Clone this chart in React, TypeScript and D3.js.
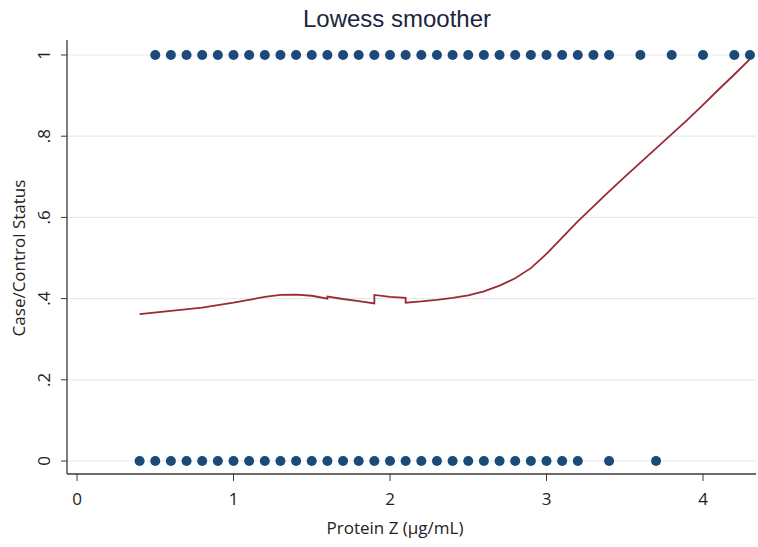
import React from 'react';
import * as d3 from 'd3';

// observed cases (status = 1) by Protein Z level
const caseX = [
  0.5, 0.6, 0.7, 0.8, 0.9, 1.0, 1.1, 1.2, 1.3, 1.4, 1.5, 1.6, 1.7, 1.8, 1.9,
  2.0, 2.1, 2.2, 2.3, 2.4, 2.5, 2.6, 2.7, 2.8, 2.9, 3.0, 3.1, 3.2, 3.3, 3.4,
  3.6, 3.8, 4.0, 4.2, 4.3,
];
// controls (status = 0)
const controlX = [
  0.4, 0.5, 0.6, 0.7, 0.8, 0.9, 1.0, 1.1, 1.2, 1.3, 1.4, 1.5, 1.6, 1.7, 1.8,
  1.9, 2.0, 2.1, 2.2, 2.3, 2.4, 2.5, 2.6, 2.7, 2.8, 2.9, 3.0, 3.1, 3.2, 3.4, 3.7,
];

// lowess fit
const lowessX = [
  0.4, 0.6, 0.8, 1.0, 1.2, 1.3, 1.4, 1.5, 1.6, 1.6, 1.7, 1.8, 1.9, 1.9, 2.0,
  2.1, 2.1, 2.2, 2.3, 2.4, 2.5, 2.6, 2.7, 2.8, 2.9, 3.0, 3.1, 3.2, 3.3, 3.4,
  3.5, 3.6, 3.7, 3.8, 3.9, 4.0, 4.1, 4.2, 4.3,
];
const lowessY = [
  0.362, 0.370, 0.378, 0.390, 0.404, 0.409, 0.410, 0.407, 0.400, 0.405, 0.399, 0.394, 0.388, 0.409, 0.404,
  0.402, 0.390, 0.393, 0.397, 0.402, 0.408, 0.418, 0.432, 0.450, 0.475, 0.510, 0.550, 0.590, 0.627, 0.664,
  0.700, 0.735, 0.770, 0.805, 0.840, 0.877, 0.915, 0.952, 0.990,
];

const xTicks = [0, 1, 2, 3, 4];
const yTicks = [0, 0.2, 0.4, 0.6, 0.8, 1];
const yTickLabels = ['0', '.2', '.4', '.6', '.8', '1'];

const W = 758;
const H = 547;

export default function App() {
  const x = d3.scaleLinear().domain([0, 4]).range([77, 703]);
  const y = d3.scaleLinear().domain([0, 1]).range([461, 55]);

  const left = 67;
  const bottom = 474;
  const top = 40;
  const right = 756;

  const line = d3.line<number>()
    .x((_, i) => x(lowessX[i]))
    .y((d) => y(d));

  const labelFont = "'Open Sans', 'Noto Sans', sans-serif";

  return (
    <svg width={W} height={H} style={{ position: 'absolute', left: 0, top: 0, background: '#fff' }}>
      <rect x={0} y={0} width={W} height={H} fill="#fff" />

      {/* grid */}
      {yTicks.map((t) => (
        <line key={'g' + t} x1={left} x2={right} y1={y(t)} y2={y(t)} stroke="#e3ebf0" strokeWidth={1.2} />
      ))}

      {/* axes */}
      <line x1={left} x2={left} y1={top} y2={bottom} stroke="#3a3a3a" strokeWidth={1.3} />
      <line x1={left} x2={right} y1={bottom} y2={bottom} stroke="#3a3a3a" strokeWidth={1.3} />

      {/* y ticks */}
      {yTicks.map((t, i) => (
        <g key={'y' + t}>
          <line x1={left - 6} x2={left} y1={y(t)} y2={y(t)} stroke="#3a3a3a" strokeWidth={1} />
          <text
            transform={`translate(${50},${y(t)}) rotate(-90)`}
            textAnchor="middle"
            fontFamily={labelFont}
            fontSize={17}
            fill="#222"
          >
            {yTickLabels[i]}
          </text>
        </g>
      ))}

      {/* x ticks */}
      {xTicks.map((t) => (
        <g key={'x' + t}>
          <line x1={x(t)} x2={x(t)} y1={bottom} y2={bottom + 7} stroke="#3a3a3a" strokeWidth={1} />
          <text x={x(t)} y={505} textAnchor="middle" fontFamily={labelFont} fontSize={17} fill="#222">
            {t}
          </text>
        </g>
      ))}

      {/* axis titles */}
      <text x={395} y={534} textAnchor="middle" fontFamily={labelFont} fontSize={17} fill="#222">
        Protein Z (µg/mL)
      </text>
      <text
        transform={`translate(${25},${258}) rotate(-90)`}
        textAnchor="middle"
        fontFamily={labelFont}
        fontSize={17}
        fill="#222"
      >
        Case/Control Status
      </text>

      {/* title */}
      <text x={397} y={27} textAnchor="middle" fontFamily="'Liberation Sans', Arial, sans-serif" fontSize={24} fill="#1a2540">
        Lowess smoother
      </text>

      {/* points */}
      {caseX.map((v, i) => (
        <circle key={'c' + i} cx={x(v)} cy={y(1)} r={5} fill="#1a4a78" />
      ))}
      {controlX.map((v, i) => (
        <circle key={'n' + i} cx={x(v)} cy={y(0)} r={5} fill="#1a4a78" />
      ))}

      {/* lowess line */}
      <path d={line(lowessY) ?? ''} fill="none" stroke="#9a2a36" strokeWidth={1.8} />
    </svg>
  );
}
